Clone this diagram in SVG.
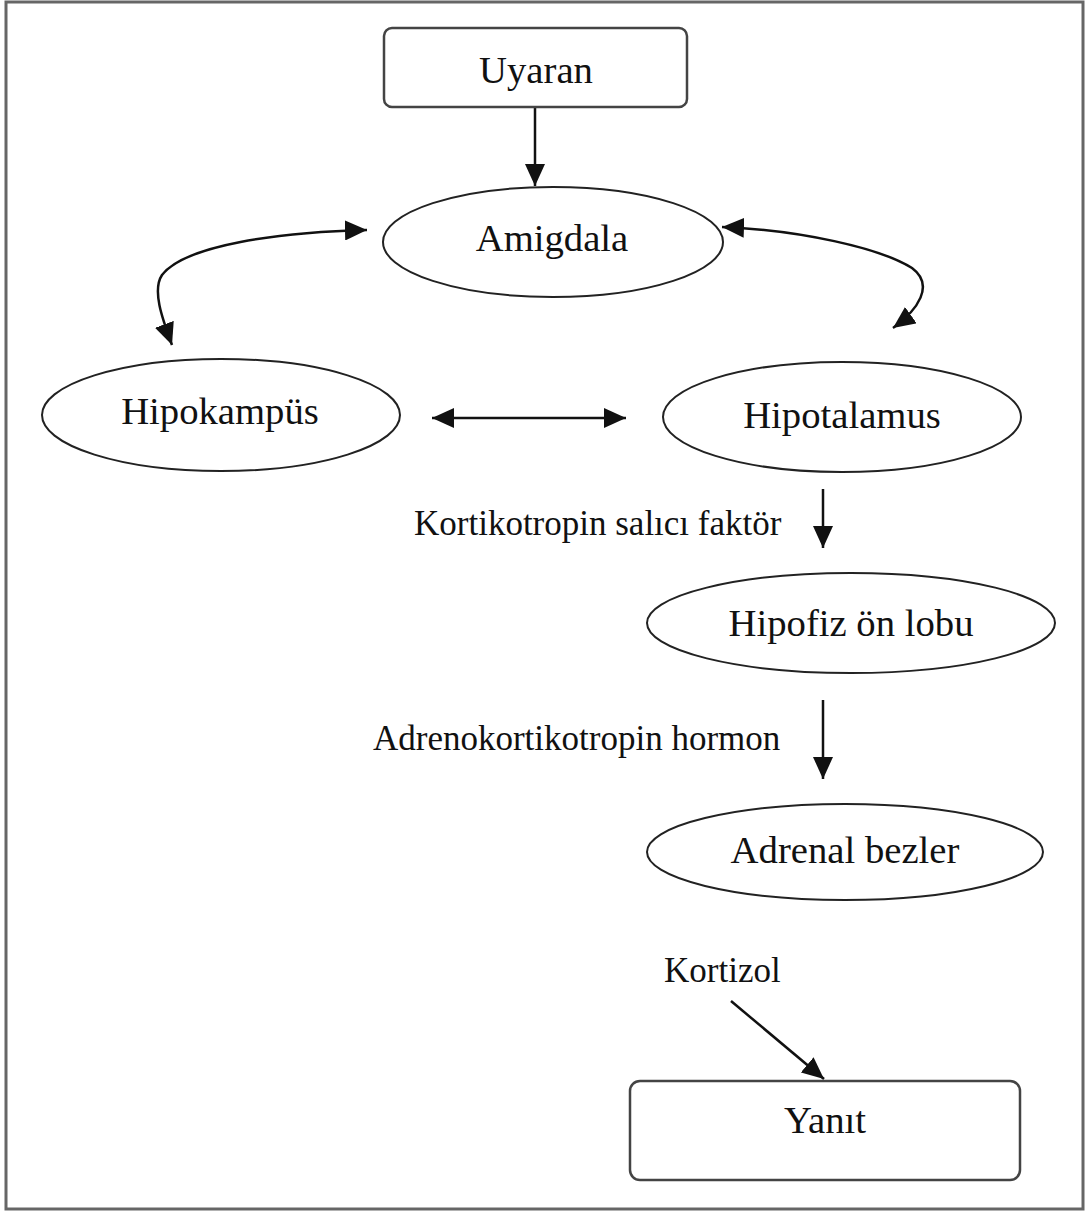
<svg xmlns="http://www.w3.org/2000/svg" width="1086" height="1213" viewBox="0 0 1086 1213">
<style>
.lbl{font-family:'Liberation Serif','DejaVu Serif',serif;fill:#111;}
.big{font-size:38.7px;text-anchor:middle;}
.small{font-size:35px;}
.shape{fill:#fff;stroke:#222;stroke-width:2;}
.box{fill:#fff;stroke:#444;stroke-width:2.5;}
.edge{fill:none;stroke:#111;stroke-width:2.5;}
</style>
<defs>
<marker id="ah" viewBox="0 0 22 20" refX="22" refY="10" markerWidth="22" markerHeight="20" markerUnits="userSpaceOnUse" orient="auto-start-reverse">
<path d="M0,0 L22,10 L0,20 Z" fill="#111"/>
</marker>
</defs>
<rect x="6" y="2" width="1077" height="1207" fill="#fff" stroke="#666" stroke-width="3"/>
<g id="connectors">
<line class="edge" x1="535" y1="108" x2="535" y2="186" marker-end="url(#ah)"/>
<path class="edge" d="M172,345 C162,318 152,290 162,275 C185,245 280,232 367,230" marker-start="url(#ah)" marker-end="url(#ah)"/>
<path class="edge" d="M722,227 C800,230 880,248 912,268 C935,285 918,310 893,328" marker-start="url(#ah)" marker-end="url(#ah)"/>
<line class="edge" x1="432" y1="418" x2="626" y2="418" marker-start="url(#ah)" marker-end="url(#ah)"/>
<line class="edge" x1="823" y1="489" x2="823" y2="548" marker-end="url(#ah)"/>
<line class="edge" x1="823" y1="700" x2="823" y2="779" marker-end="url(#ah)"/>
<line class="edge" x1="731" y1="1001" x2="824" y2="1079" marker-end="url(#ah)"/>
</g>
<g id="uyaran">
<rect class="box" x="384" y="28" width="303" height="79" rx="8"/>
<text class="lbl big" x="536" y="83">Uyaran</text>
</g>
<g id="amigdala">
<ellipse class="shape" cx="553" cy="242" rx="170" ry="55"/>
<text class="lbl big" x="552" y="251">Amigdala</text>
</g>
<g id="hipokampus">
<ellipse class="shape" cx="221" cy="415" rx="179" ry="56"/>
<text class="lbl big" x="220" y="424">Hipokampüs</text>
</g>
<g id="hipotalamus">
<ellipse class="shape" cx="842" cy="417" rx="179" ry="55"/>
<text class="lbl big" x="842" y="428">Hipotalamus</text>
</g>
<g id="label-crf">
<text class="lbl small" x="414" y="535">Kortikotropin salıcı faktör</text>
</g>
<g id="hipofiz">
<ellipse class="shape" cx="851" cy="623" rx="204" ry="50"/>
<text class="lbl big" x="851" y="636">Hipofiz ön lobu</text>
</g>
<g id="label-acth">
<text class="lbl small" x="373" y="750">Adrenokortikotropin hormon</text>
</g>
<g id="adrenal">
<ellipse class="shape" cx="845" cy="852" rx="198" ry="48"/>
<text class="lbl big" x="845" y="863">Adrenal bezler</text>
</g>
<g id="label-kortizol">
<text class="lbl small" x="664" y="982">Kortizol</text>
</g>
<g id="yanit">
<rect class="box" x="630" y="1081" width="390" height="99" rx="10"/>
<text class="lbl big" x="825" y="1133">Yanıt</text>
</g>
</svg>
